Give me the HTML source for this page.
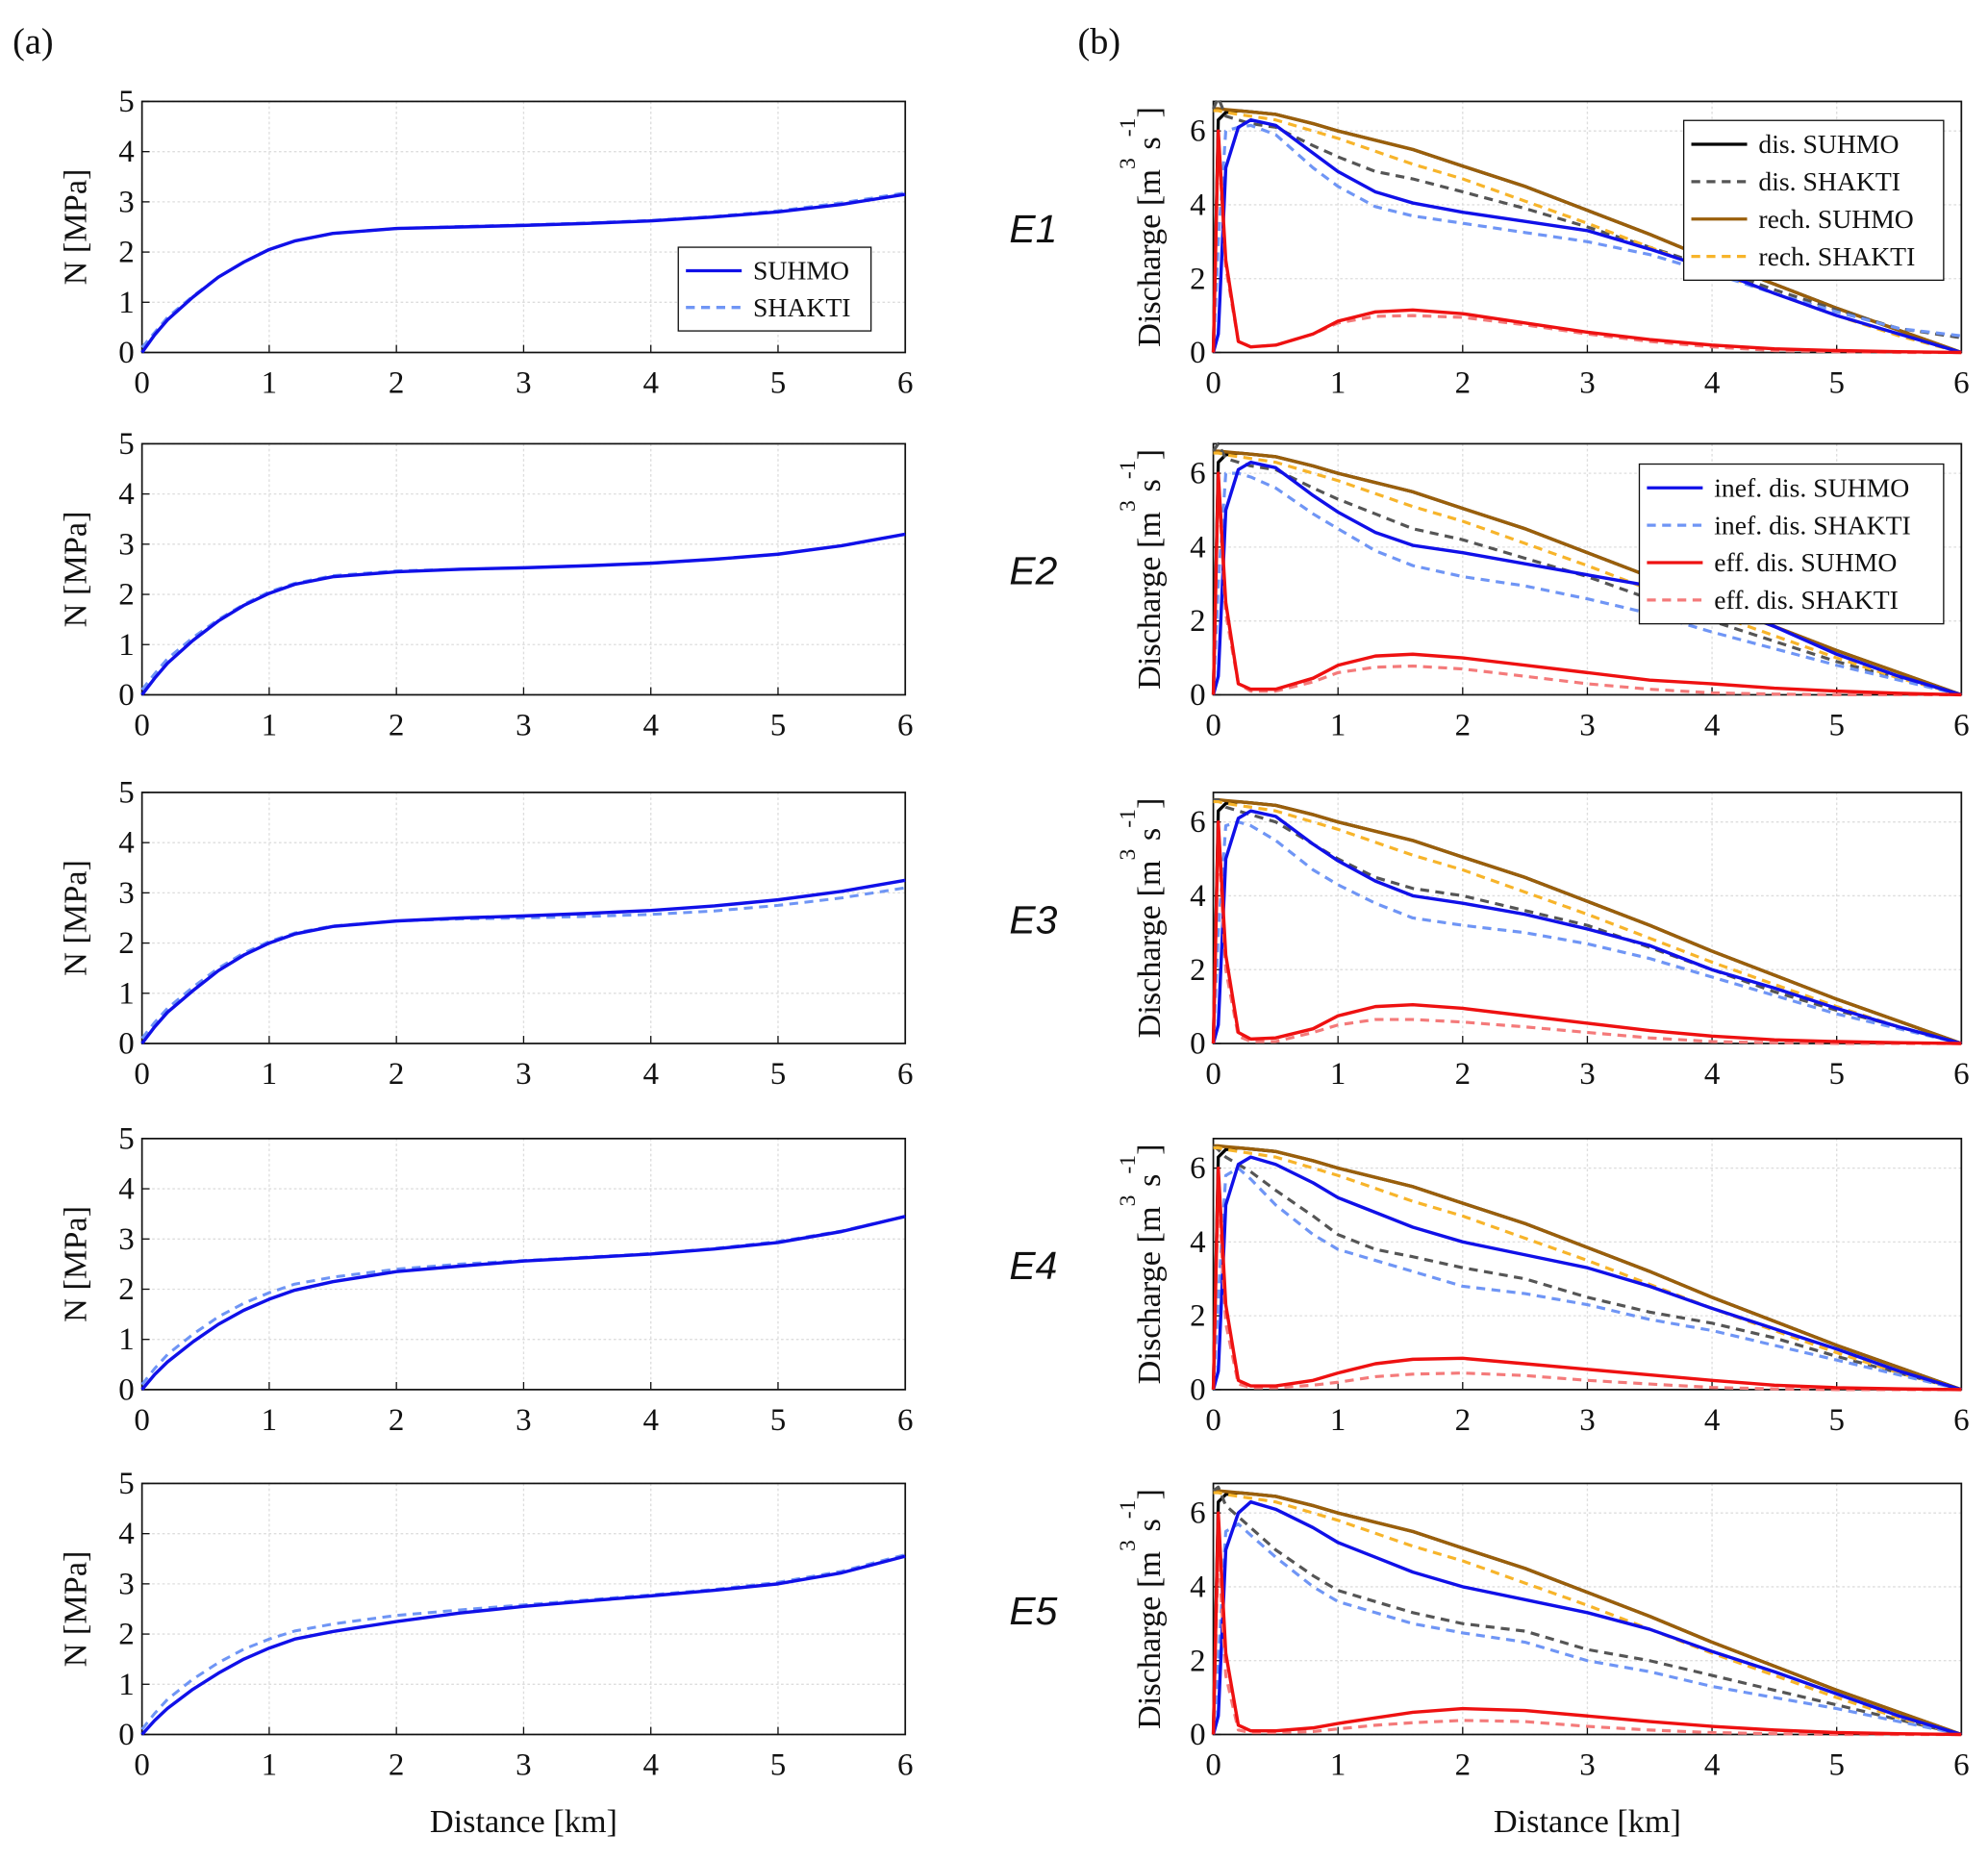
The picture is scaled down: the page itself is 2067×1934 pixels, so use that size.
<!DOCTYPE html>
<html><head><meta charset="utf-8"><style>
html,body{margin:0;padding:0;background:#fff;}
svg{display:block;}
text{font-family:"Liberation Serif",serif;fill:#111;}
.tick{font-size:25px;}
.ttl{font-size:26px;}
.eh{font-family:"Liberation Sans",sans-serif;font-style:italic;font-size:31px;}
.leg{font-size:21px;}
</style></head><body>
<svg id="fig" xmlns="http://www.w3.org/2000/svg" width="2067" height="1934" viewBox="0 0 1568 1467" preserveAspectRatio="none">
<text x="10" y="42" class="ttl" style="font-size:29px">(a)</text>
<text x="850" y="42" class="ttl" style="font-size:29px">(b)</text>
<g id="plots"></g>
</svg>
<script>
// ---- data: effective pressure N (MPa), left column ----
const nX = [0,0.1,0.2,0.4,0.6,0.8,1,1.2,1.5,2,2.5,3,3.5,4,4.5,5,5.5,6];
const nSuhmo1 = [0,0.35,0.65,1.1,1.5,1.8,2.05,2.22,2.37,2.47,2.5,2.53,2.57,2.62,2.7,2.8,2.95,3.15];
const nShakti1 = [0.1,0.4,0.7,1.12,1.5,1.8,2.05,2.22,2.37,2.47,2.51,2.54,2.58,2.63,2.71,2.82,2.98,3.18];
const nSuhmo2 = [0,0.33,0.63,1.08,1.47,1.78,2.02,2.2,2.35,2.45,2.5,2.53,2.57,2.62,2.7,2.8,2.97,3.2];
const nShakti2 = [0.1,0.42,0.72,1.14,1.5,1.8,2.05,2.22,2.37,2.47,2.5,2.53,2.57,2.62,2.7,2.8,2.97,3.2];
const nSuhmo3 = [0,0.33,0.62,1.05,1.45,1.76,2.0,2.18,2.33,2.44,2.5,2.54,2.59,2.65,2.74,2.86,3.03,3.25];
const nShakti3 = [0.1,0.42,0.7,1.12,1.5,1.8,2.03,2.2,2.34,2.44,2.48,2.5,2.53,2.57,2.64,2.75,2.9,3.1];
const nSuhmo4 = [0,0.3,0.55,0.95,1.3,1.58,1.8,1.98,2.15,2.35,2.46,2.56,2.63,2.7,2.8,2.93,3.15,3.45];
const nShakti4 = [0.1,0.42,0.7,1.1,1.45,1.72,1.93,2.1,2.24,2.4,2.5,2.57,2.64,2.71,2.81,2.95,3.16,3.45];
const nSuhmo5 = [0,0.28,0.52,0.9,1.22,1.5,1.72,1.9,2.05,2.25,2.42,2.55,2.66,2.76,2.87,3.0,3.22,3.55];
const nShakti5 = [0.1,0.42,0.7,1.1,1.43,1.7,1.9,2.06,2.2,2.37,2.48,2.58,2.68,2.78,2.89,3.03,3.25,3.58];
const nTicksX = [0,1,2,3,4,5,6];
const nTicksY = [0,1,2,3,4,5];

// ---- data: discharge (m3/s), right column ----
const qX = [0,0.04,0.1,0.2,0.3,0.5,0.8,1,1.3,1.6,2,2.5,3,3.5,4,4.5,5,5.5,6];
const rechSuhmo = [6.6,6.6,6.58,6.55,6.52,6.45,6.2,6.0,5.75,5.5,5.05,4.5,3.85,3.2,2.5,1.85,1.2,0.6,0];
const rechShakti = [6.55,6.55,6.5,6.45,6.4,6.3,6.0,5.8,5.45,5.1,4.7,4.1,3.5,2.85,2.2,1.6,1.0,0.45,0];
const disSuhmo = [0,6.3,6.5,6.55,6.52,6.45,6.2,6.0,5.75,5.5,5.05,4.5,3.85,3.2,2.5,1.85,1.2,0.6,0];
const disShakti1 = [6.6,6.9,6.4,6.3,6.2,6.1,5.6,5.3,4.9,4.7,4.35,3.9,3.4,2.85,2.3,1.7,1.15,0.65,0.4];
const inefSuhmo1 = [0,0.5,5.0,6.1,6.3,6.15,5.4,4.9,4.35,4.05,3.8,3.55,3.3,2.8,2.25,1.6,1.0,0.5,0];
const inefShakti1 = [0,3.0,6.0,6.1,6.15,5.9,5.0,4.5,3.95,3.7,3.5,3.25,3.0,2.65,2.15,1.6,1.1,0.65,0.45];
const effSuhmo1 = [0,6.0,2.5,0.3,0.15,0.2,0.5,0.85,1.1,1.15,1.05,0.8,0.55,0.35,0.2,0.1,0.05,0.02,0];
const effShakti1 = [0,5.8,2.3,0.3,0.15,0.2,0.5,0.8,0.98,1.0,0.95,0.75,0.5,0.3,0.15,0.05,0.02,0,0];
const disShakti2 = [6.6,6.8,6.4,6.3,6.2,6.1,5.6,5.3,4.9,4.5,4.2,3.7,3.2,2.6,2.0,1.45,0.9,0.45,0];
const inefSuhmo2 = [0,0.5,5.0,6.1,6.3,6.15,5.4,4.95,4.4,4.05,3.85,3.55,3.25,2.95,2.5,1.85,1.1,0.5,0];
const inefShakti2 = [0,3.0,6.0,6.0,5.9,5.6,4.9,4.5,3.9,3.5,3.2,2.95,2.6,2.2,1.7,1.25,0.8,0.4,0];
const effSuhmo2 = [0,6.0,2.5,0.3,0.15,0.15,0.45,0.8,1.05,1.1,1.0,0.8,0.6,0.4,0.3,0.18,0.1,0.04,0];
const effShakti2 = [0,5.8,2.2,0.3,0.1,0.1,0.35,0.6,0.75,0.78,0.7,0.5,0.3,0.15,0.05,0.02,0,0,0];
const disShakti3 = [6.6,6.6,6.4,6.3,6.2,6.0,5.4,5.0,4.5,4.2,4.0,3.6,3.2,2.6,2.0,1.4,0.9,0.45,0];
const inefSuhmo3 = [0,0.5,5.0,6.1,6.3,6.15,5.4,4.95,4.4,4.0,3.8,3.5,3.1,2.65,2.0,1.5,0.95,0.45,0];
const inefShakti3 = [0,3.0,5.9,6.0,5.9,5.5,4.7,4.3,3.8,3.4,3.2,3.0,2.7,2.3,1.8,1.3,0.8,0.4,0];
const effSuhmo3 = [0,6.0,2.4,0.3,0.12,0.15,0.4,0.75,1.0,1.05,0.95,0.75,0.55,0.35,0.2,0.1,0.05,0.02,0];
const effShakti3 = [0,5.6,2.0,0.2,0.05,0.05,0.3,0.5,0.65,0.65,0.58,0.45,0.3,0.15,0.05,0.02,0,0,0];
const disShakti4 = [6.6,6.5,6.3,6.1,5.9,5.4,4.7,4.2,3.8,3.6,3.3,3.0,2.5,2.1,1.8,1.4,0.9,0.45,0];
const inefSuhmo4 = [0,0.5,5.0,6.1,6.3,6.1,5.6,5.2,4.8,4.4,4.0,3.65,3.3,2.8,2.2,1.65,1.1,0.5,0];
const inefShakti4 = [0,2.5,5.8,6.0,5.7,5.0,4.2,3.8,3.5,3.2,2.8,2.6,2.3,1.9,1.6,1.2,0.8,0.4,0];
const effSuhmo4 = [0,6.0,2.3,0.25,0.1,0.1,0.25,0.45,0.7,0.82,0.85,0.7,0.55,0.4,0.25,0.12,0.05,0.02,0];
const effShakti4 = [0,5.4,1.8,0.15,0.05,0.05,0.12,0.2,0.35,0.42,0.45,0.38,0.25,0.15,0.06,0.02,0,0,0];
const disShakti5 = [6.6,6.7,6.2,5.9,5.6,5.0,4.3,3.9,3.6,3.3,3.0,2.8,2.3,2.0,1.6,1.2,0.8,0.4,0];
const inefSuhmo5 = [0,0.5,5.0,6.0,6.3,6.1,5.6,5.2,4.8,4.4,4.0,3.65,3.3,2.85,2.25,1.7,1.1,0.5,0];
const inefShakti5 = [0,2.0,5.5,5.7,5.4,4.8,4.0,3.6,3.3,3.0,2.75,2.5,2.0,1.7,1.3,1.0,0.7,0.35,0];
const effSuhmo5 = [0,6.0,2.2,0.25,0.1,0.1,0.18,0.3,0.45,0.6,0.7,0.65,0.5,0.35,0.22,0.12,0.05,0.02,0];
const effShakti5 = [0,5.0,1.6,0.12,0.05,0.05,0.08,0.15,0.25,0.32,0.38,0.35,0.22,0.12,0.05,0.02,0,0,0];
const qTicksX = [0,1,2,3,4,5,6];
const qTicksY = [0,2,4,6];
const expLabels = ["E1","E2","E3","E4","E5"];

const nS = [[nSuhmo1,nShakti1],[nSuhmo2,nShakti2],[nSuhmo3,nShakti3],[nSuhmo4,nShakti4],[nSuhmo5,nShakti5]];
const qS = [[disShakti1,inefSuhmo1,inefShakti1,effSuhmo1,effShakti1],
            [disShakti2,inefSuhmo2,inefShakti2,effSuhmo2,effShakti2],
            [disShakti3,inefSuhmo3,inefShakti3,effSuhmo3,effShakti3],
            [disShakti4,inefSuhmo4,inefShakti4,effSuhmo4,effShakti4],
            [disShakti5,inefSuhmo5,inefShakti5,effSuhmo5,effShakti5]];

const NS = 'http://www.w3.org/2000/svg';
const root = document.getElementById('plots');
const tops = [80,350,625,898,1170];
const H = 198;
function el(tag, parent){ const e=document.createElementNS(NS,tag); parent.appendChild(e); return e; }
function txt(parent,x,y,s,cls,anchor){ const t=el('text',parent); t.setAttribute('x',x); t.setAttribute('y',y); t.setAttribute('class',cls); t.setAttribute('text-anchor',anchor||'middle'); t.textContent=s; return t; }

function axes(g, x0, x1, y0, ymax, xt, yt, name){
  const sx = v => x0 + (x1-x0)*v/6;
  const sy = v => y0+H - H*v/ymax;
  xt.forEach(v=>{ const l=el('line',g); l.setAttribute('x1',sx(v)); l.setAttribute('x2',sx(v)); l.setAttribute('y1',y0); l.setAttribute('y2',y0+H); l.setAttribute('stroke','#ddd'); l.setAttribute('stroke-dasharray','2,2');
    
    
    const t=txt(g,sx(v),y0+H+32,String(v),'tick');
    
    
    const k=el('line',g); k.setAttribute('x1',sx(v)); k.setAttribute('x2',sx(v)); k.setAttribute('y1',y0+H); k.setAttribute('y2',y0+H-6); k.setAttribute('stroke','#111');
    
    
  });
  yt.forEach(v=>{ const l=el('line',g); l.setAttribute('x1',x0); l.setAttribute('x2',x1); l.setAttribute('y1',sy(v)); l.setAttribute('y2',sy(v)); l.setAttribute('stroke','#ddd'); l.setAttribute('stroke-dasharray','2,2');
    
    
    const t=txt(g,x0-6,sy(v)+8,String(v),'tick','end');
    
    
    const k=el('line',g); k.setAttribute('x1',x0); k.setAttribute('x2',x0+6); k.setAttribute('y1',sy(v)); k.setAttribute('y2',sy(v)); k.setAttribute('stroke','#111');
    
    
  });
  const r=el('rect',g); r.setAttribute('x',x0); r.setAttribute('y',y0); r.setAttribute('width',x1-x0); r.setAttribute('height',H); r.setAttribute('fill','none'); r.setAttribute('stroke','#111'); r.setAttribute('stroke-width','1.3');
  
  
  return [sx,sy];
}
function line(g, xs, ys, sx, sy, color, dash, w, name){
  const p=el('path',g);
  p.setAttribute('d', xs.map((x,i)=>(i?'L':'M')+sx(x).toFixed(1)+','+sy(ys[i]).toFixed(1)).join(''));
  p.setAttribute('fill','none'); p.setAttribute('stroke',color); p.setAttribute('stroke-width',w||2.5);
  p.setAttribute('stroke-linejoin','round');
  if(dash) p.setAttribute('stroke-dasharray',dash);
  
  
}
function legend(g,x,y,w,items,rowH,name){
  const r=el('rect',g); r.setAttribute('x',x); r.setAttribute('y',y); r.setAttribute('width',w); r.setAttribute('height',items.length*rowH+8); r.setAttribute('fill','#fff'); r.setAttribute('stroke','#111');
  
  
  items.forEach((it,i)=>{ const cy=y+4+rowH*(i+0.5);
    const l=el('line',g); l.setAttribute('x1',x+6); l.setAttribute('x2',x+50); l.setAttribute('y1',cy); l.setAttribute('y2',cy); l.setAttribute('stroke',it[1]); l.setAttribute('stroke-width',2.5); if(it[2]) l.setAttribute('stroke-dasharray',it[2]);
    
    
    const t=txt(g,x+59,cy+7,it[0],'leg','start');
    
    
  });
}

for(let p=0;p<5;p++){
  const y0=tops[p];
  const gl=el('g',root);
  
  
  const [sx,sy]=axes(gl,112,714,y0,5,nTicksX,nTicksY,'n-panel-'+(p+1));
  line(gl,nX,nS[p][1],sx,sy,'#6f95f5','7,5',2.3,'n-shakti-line');
  line(gl,nX,nS[p][0],sx,sy,'#1010e8',null,2.6,'n-suhmo-line');
  const yt=txt(gl,0,0,'N [MPa]','ttl');
  yt.setAttribute('transform','translate(68,'+(y0+H/2)+') rotate(-90)');
  
  
  if(p==0) legend(gl,535,195,152,[['SUHMO','#1010e8',null],['SHAKTI','#6f95f5','7,5']],29,'n-legend');

  const gr=el('g',root);
  
  
  const [qx,qy]=axes(gr,957,1547,y0,6.8,qTicksX,qTicksY,'q-panel-'+(p+1));
  const s=qS[p];
  line(gr,qX,disSuhmo,qx,qy,'#000',null,2.5,'dis-suhmo-line');
  line(gr,qX,rechSuhmo,qx,qy,'#9a5f0b',null,2.6,'rech-suhmo-line');
  line(gr,qX,s[0],qx,qy,'#555','7,5',2.4,'dis-shakti-line');
  line(gr,qX,rechShakti,qx,qy,'#f7b42a','7,5',2.4,'rech-shakti-line');
  line(gr,qX,s[2],qx,qy,'#6f95f5','7,5',2.4,'inef-shakti-line');
  line(gr,qX,s[1],qx,qy,'#1010e8',null,2.6,'inef-suhmo-line');
  line(gr,qX,s[4],qx,qy,'#f47a7a','7,5',2.4,'eff-shakti-line');
  line(gr,qX,s[3],qx,qy,'#ee1111',null,2.6,'eff-suhmo-line');
  const qt=el('text',gr); qt.setAttribute('class','ttl'); qt.setAttribute('text-anchor','middle');
  qt.setAttribute('transform','translate(915,'+(y0+H/2)+') rotate(-90)');
  qt.innerHTML='Discharge [m<tspan dy="-20" font-size="18">3</tspan><tspan dy="20"> s</tspan><tspan dy="-20" font-size="18">-1</tspan><tspan dy="20">]</tspan>';
  
  
  const e=txt(root,815,y0+H/2+12,expLabels[p],'eh');
  
  
  if(p==0) legend(gr,1328,95,205,[['dis. SUHMO','#000',null],['dis. SHAKTI','#555','7,5'],['rech. SUHMO','#9a5f0b',null],['rech. SHAKTI','#f7b42a','7,5']],29.5,'discharge-legend');
  if(p==1) legend(gr,1293,366,240,[['inef. dis. SUHMO','#1010e8',null],['inef. dis. SHAKTI','#6f95f5','7,5'],['eff. dis. SUHMO','#ee1111',null],['eff. dis. SHAKTI','#f47a7a','7,5']],29.5,'channel-legend');
}
const xa=txt(root,413,1445,'Distance [km]','ttl');


const xb=txt(root,1252,1445,'Distance [km]','ttl');


</script>
</body></html>
